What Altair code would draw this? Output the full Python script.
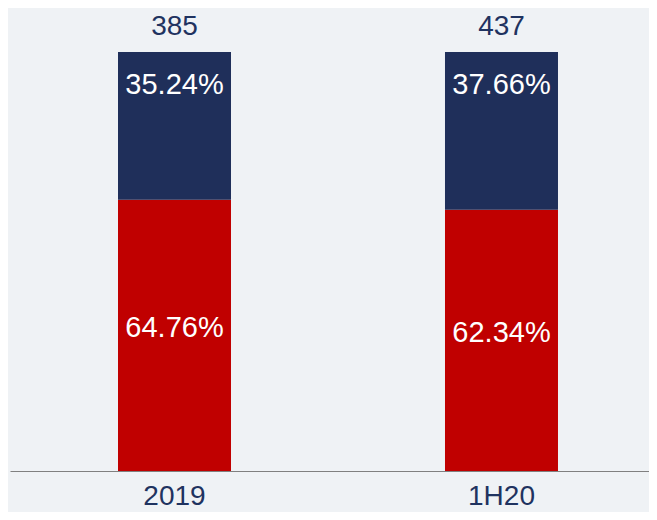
import altair as alt
import pandas as pd

categories = ["2019", "1H20"]
totals = [385, 437]
red_share = [64.76, 62.34]
blue_share = [35.24, 37.66]

rows = []
for c, r, b in zip(categories, red_share, blue_share):
    rows.append({"period": c, "segment": "Segment A", "value": r, "order": 0,
                 "label": f"{r:.2f}%", "mid": r / 2, "top": r + b})
    rows.append({"period": c, "segment": "Segment B", "value": b, "order": 1,
                 "label": f"{b:.2f}%", "mid": r + b / 2, "top": r + b})
df = pd.DataFrame(rows)
tot_df = pd.DataFrame({"period": categories, "total": [str(t) for t in totals],
                       "top": [r + b for r, b in zip(red_share, blue_share)]})

FONT = "Liberation Sans"
NAVY = "#1f3360"

xenc = alt.X("period:N", sort=categories, title=None,
             scale=alt.Scale(paddingInner=0.6544, paddingOuter=0.3043, align=0.5427),
             axis=alt.Axis(labelAngle=0, labelFontSize=28, labelColor=NAVY, labelFont=FONT,
                           ticks=False, domainColor="#808080", domainWidth=1.2,
                           labelPadding=25, labelBaseline="middle"))
yscale = alt.Scale(domain=[0, 100], nice=False)

base = alt.Chart(df)

bars = base.mark_bar(size=113).encode(
    x=xenc,
    y=alt.Y("value:Q", stack="zero", scale=yscale, axis=None),
    color=alt.Color("segment:N", scale=alt.Scale(domain=["Segment A", "Segment B"],
                                                 range=["#c00000", "#1f2f5a"]), legend=None),
    order=alt.Order("order:Q"),
)

red_labels = base.transform_filter(alt.datum.segment == "Segment A").mark_text(
    font=FONT, fontSize=29, color="white", baseline="middle", dy=-7
).encode(x=alt.X("period:N", sort=categories), y=alt.Y("mid:Q", scale=yscale), text="label:N")

blue_labels = base.transform_filter(alt.datum.segment == "Segment B").mark_text(
    font=FONT, fontSize=29, color="white", baseline="middle", dy=33
).encode(x=alt.X("period:N", sort=categories), y=alt.Y("top:Q", scale=yscale), text="label:N")

total_labels = alt.Chart(tot_df).mark_text(
    font=FONT, fontSize=28, color=NAVY, baseline="middle", dy=-25
).encode(x=alt.X("period:N", sort=categories), y=alt.Y("top:Q", scale=yscale), text="total:N")

chart = alt.layer(bars, red_labels, blue_labels, total_labels).properties(
    width=639, height=419,
    autosize=alt.AutoSizeParams(type="none"),
    padding={"left": 2, "top": 44, "right": 0, "bottom": 41},
    background="#eff2f5",
).configure_view(stroke=None).configure_axis(grid=False)

chart.save("out.html", embed_options={"renderer": "svg", "actions": False})
